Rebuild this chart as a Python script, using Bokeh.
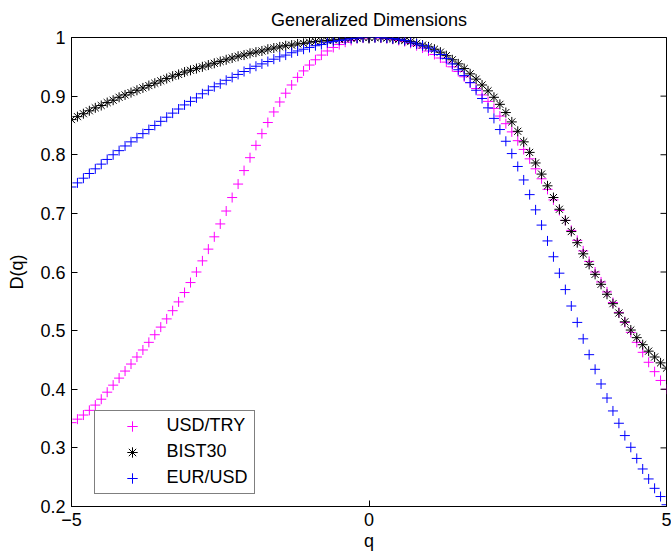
from bokeh.plotting import figure
from bokeh.models import Range1d, FixedTicker, Legend, LegendItem
from bokeh.embed import file_html
from bokeh.resources import INLINE

# q grid (step 0.1 from -5 to 5)
q = [round(-5 + 0.1 * i, 1) for i in range(101)]

usd_try = [0.343, 0.349, 0.356, 0.364, 0.373, 0.383, 0.395, 0.407, 0.419, 0.431,
           0.443, 0.455, 0.467, 0.480, 0.493, 0.506, 0.520, 0.534, 0.549, 0.565,
           0.582, 0.600, 0.619, 0.639, 0.660, 0.682, 0.704, 0.727, 0.750, 0.773,
           0.795, 0.816, 0.836, 0.855, 0.873, 0.890, 0.905, 0.919, 0.932, 0.943,
           0.953, 0.962, 0.970, 0.977, 0.983, 0.988, 0.992, 0.995, 0.998, 0.999,
           1.000,
           1.000, 0.999, 0.998, 0.997, 0.995, 0.993, 0.990, 0.986, 0.982, 0.977,
           0.971, 0.965, 0.958, 0.950, 0.942, 0.933, 0.923, 0.913, 0.902, 0.891,
           0.879, 0.866, 0.853, 0.839, 0.824, 0.809, 0.793, 0.776, 0.759, 0.741,
           0.723, 0.705, 0.688, 0.671, 0.654, 0.636, 0.618, 0.600, 0.583, 0.566,
           0.548, 0.531, 0.514, 0.497, 0.480, 0.463, 0.446, 0.430, 0.415, 0.400]

bist30 = [0.860, 0.865, 0.870, 0.875, 0.880, 0.884, 0.889, 0.893, 0.898, 0.902,
          0.906, 0.910, 0.914, 0.918, 0.922, 0.926, 0.930, 0.934, 0.937, 0.941,
          0.944, 0.947, 0.950, 0.953, 0.956, 0.959, 0.962, 0.965, 0.968, 0.970,
          0.973, 0.975, 0.977, 0.980, 0.982, 0.984, 0.986, 0.987, 0.989, 0.990,
          0.992, 0.993, 0.994, 0.995, 0.996, 0.997, 0.998, 0.999, 0.999, 1.000,
          1.000,
          1.000, 1.000, 0.999, 0.998, 0.997, 0.995, 0.993, 0.990, 0.987, 0.984,
          0.980, 0.975, 0.969, 0.962, 0.955, 0.947, 0.938, 0.929, 0.919, 0.909,
          0.898, 0.886, 0.872, 0.856, 0.840, 0.822, 0.804, 0.786, 0.767, 0.747,
          0.727, 0.707, 0.688, 0.669, 0.650, 0.631, 0.613, 0.596, 0.579, 0.562,
          0.546, 0.530, 0.515, 0.501, 0.488, 0.476, 0.465, 0.455, 0.445, 0.436]

eur_usd = [0.745, 0.752, 0.760, 0.768, 0.776, 0.784, 0.792, 0.800, 0.807, 0.815,
           0.822, 0.829, 0.836, 0.843, 0.850, 0.857, 0.864, 0.871, 0.878, 0.885,
           0.891, 0.897, 0.904, 0.910, 0.916, 0.921, 0.927, 0.932, 0.937, 0.942,
           0.947, 0.951, 0.955, 0.959, 0.963, 0.967, 0.970, 0.974, 0.977, 0.980,
           0.983, 0.986, 0.988, 0.991, 0.993, 0.995, 0.996, 0.998, 0.999, 1.000,
           1.000,
           1.000, 1.000, 0.999, 0.998, 0.997, 0.995, 0.992, 0.989, 0.986, 0.982,
           0.977, 0.971, 0.964, 0.955, 0.945, 0.935, 0.923, 0.910, 0.896, 0.880,
           0.862, 0.843, 0.823, 0.802, 0.780, 0.757, 0.732, 0.706, 0.680, 0.653,
           0.626, 0.598, 0.570, 0.542, 0.514, 0.486, 0.459, 0.434, 0.409, 0.385,
           0.363, 0.342, 0.321, 0.301, 0.282, 0.264, 0.247, 0.231, 0.217, 0.203]

x_ticks = [-5, 0, 5]
x_tick_labels = {-5: "\u22125", 0: "0", 5: "5"}
y_ticks = [0.2, 0.3, 0.4, 0.5, 0.6, 0.7, 0.8, 0.9, 1.0]
y_tick_labels = {1: "1"}
x_min, x_max = -5, 5
y_min, y_max = 0.2, 1.0

FONT = "Liberation Sans"
FS = "18px"

p = figure(frame_width=595, frame_height=469, output_backend="svg", toolbar_location=None,
           x_range=Range1d(x_min, x_max), y_range=Range1d(y_min, y_max),
           min_border_left=71, min_border_right=5, min_border_top=37, min_border_bottom=50,
           title="Generalized Dimensions", x_axis_label="q", y_axis_label="D(q)")
p.grid.visible = False
p.outline_line_color = "black"
p.outline_line_width = 1
p.background_fill_color = "white"
p.border_fill_color = "white"

p.title.align = "center"
p.title.text_font = FONT
p.title.text_font_size = FS
p.title.text_font_style = "normal"
p.title.text_color = "black"
p.title.standoff = 15

def style_axis(ax):
    ax.major_tick_in = 6
    ax.major_tick_out = 0
    ax.minor_tick_in = 0
    ax.minor_tick_out = 0
    ax.axis_line_color = "black"
    ax.major_tick_line_color = "black"
    ax.major_label_text_font = FONT
    ax.major_label_text_font_size = FS
    ax.major_label_text_color = "black"
    ax.axis_label_text_font = FONT
    ax.axis_label_text_font_size = FS
    ax.axis_label_text_font_style = "normal"
    ax.axis_label_text_color = "black"

xa = p.xaxis[0]
xa.ticker = FixedTicker(ticks=x_ticks)
xa.major_label_overrides = x_tick_labels
style_axis(xa)
xa.major_label_standoff = 6
xa.axis_label_standoff = 2

ya = p.yaxis[0]
ya.ticker = FixedTicker(ticks=y_ticks)
ya.major_label_overrides = y_tick_labels
style_axis(ya)
ya.major_label_standoff = 6
ya.axis_label_standoff = 10

r1 = p.scatter(q, usd_try, marker="cross", size=10, line_color="#FF00FF", line_width=1)
r2 = p.scatter(q, bist30, marker="asterisk", size=10, line_color="black", line_width=1)
r3 = p.scatter(q, eur_usd, marker="cross", size=10, line_color="#0000FF", line_width=1)

# inward ticks on the top and right edges of the box: crosses centred on the edge,
# the outer half is clipped by the frame and the other arm lies on the box line
p.scatter(x_ticks, [y_max] * len(x_ticks), marker="cross", size=12,
          line_color="black", line_width=1)
p.scatter([x_max] * len(y_ticks), y_ticks, marker="cross", size=12,
          line_color="black", line_width=1)

legend = Legend(items=[LegendItem(label="USD/TRY", renderers=[r1]),
                       LegendItem(label="BIST30", renderers=[r2]),
                       LegendItem(label="EUR/USD", renderers=[r3])],
                location=(22.5, 12.5), padding=2, spacing=0, margin=0,
                glyph_width=70, glyph_height=26, label_height=26, label_width=85,
                label_standoff=0, label_text_font=FONT, label_text_font_size=FS,
                label_text_color="black", border_line_color="black", border_line_width=1,
                background_fill_color="white", background_fill_alpha=1)
p.add_layout(legend)

open("out.html", "w").write(file_html(p, INLINE))
